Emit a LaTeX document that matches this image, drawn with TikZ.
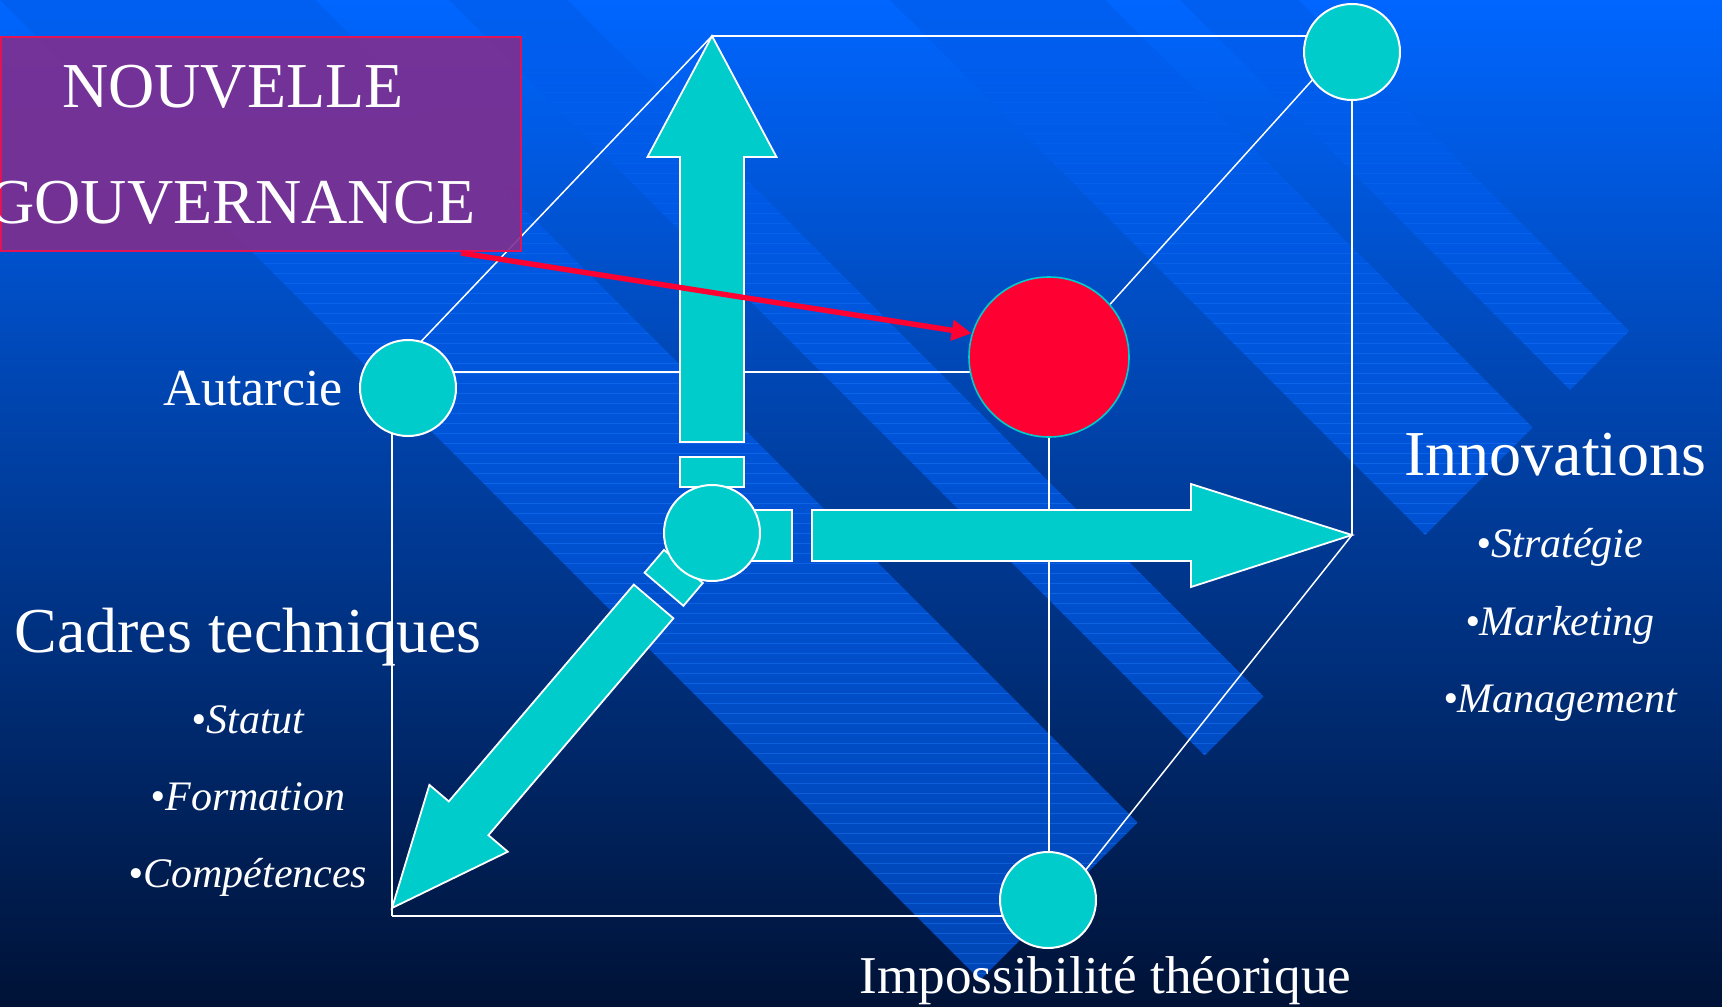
\documentclass[tikz,border=0pt]{standalone}
\usepackage{fontspec}
\setmainfont{Liberation Serif}
\usetikzlibrary{arrows.meta}
\definecolor{bgtop}{RGB}{0,102,255}
\definecolor{bgmid}{RGB}{0,66,172}
\definecolor{bgbot}{RGB}{0,18,54}
\definecolor{bandc}{RGB}{0,92,235}
\definecolor{texc}{RGB}{30,125,255}
\definecolor{turq}{RGB}{0,204,204}
\definecolor{redc}{RGB}{255,0,51}
\definecolor{purp}{RGB}{128,46,142}
\definecolor{purpline}{RGB}{225,20,85}
\begin{document}
\begin{tikzpicture}[x=0.5pt,y=-0.5pt,
  cubeedge/.style={draw=white,line width=1.2pt},
  cubediag/.style={draw=white,line width=0.75pt},
  arrowshape/.style={fill=turq,draw=white,line width=0.9pt,line join=miter},
  vertexdot/.style={circle,fill=turq,draw=white,line width=1pt,minimum size=48pt,inner sep=0pt},
  hotdot/.style={circle,fill=redc,draw=turq,line width=0.8pt,minimum size=80pt,inner sep=0pt},
  bigtxt/.style={text=white,inner sep=0pt,font=\fontsize{32}{38}\selectfont},
  midtxt/.style={text=white,inner sep=0pt,font=\fontsize{26}{31}\selectfont},
  itemtxt/.style={text=white,inner sep=0pt,font=\fontsize{21}{25}\selectfont\itshape},
  bandfill/.style={fill=bandc,fill opacity=0.7},
  texline/.style={draw=texc,line width=0.5pt}
]
\useasboundingbox (0,0) rectangle (1722,1006);
% background
\shade[top color=bgtop, middle color=bgmid, bottom color=bgbot] (0,0) rectangle (1722,1006);
\def\bandpaths{(-50,-50) -- (265,-50) -- (1137.5,822.5) -- (980,980) -- cycle
  (399,-50) -- (517,-50) -- (1263.5,696.5) -- (1204.5,755.5) -- cycle
  (840,-50) -- (1055,-50) -- (1532.5,427.5) -- (1425,535) -- cycle
  (1130,-50) -- (1248,-50) -- (1629,331) -- (1570,390) -- cycle}
\path[bandfill] \bandpaths;
\begin{scope}
  \clip \bandpaths;
  \foreach \yy in {3,13,...,1003} {
    \pgfmathsetmacro\texop{min(0.42,\yy/900)}
    \draw[texline,opacity=\texop] (0,\yy) -- (1722,\yy);
  }
\end{scope}
% cube vertices
\coordinate (B1) at (712,36);
\coordinate (B2) at (1352,36);
\coordinate (B3) at (1352,535);
\coordinate (B4) at (712,534);
\coordinate (F1) at (392,372);
\coordinate (F2) at (1049,372);
\coordinate (F3) at (1049,916);
\coordinate (F4) at (392,916);
\coordinate (tipdl) at (392,908);
% cube edges
\draw[cubeedge] (B1) -- (B2);
\draw[cubeedge] (B2) -- (B3);
\draw[cubeedge] (F1) -- (F2);
\draw[cubeedge] (F1) -- (F4);
\draw[cubeedge] (F4) -- (F3);
\draw[cubeedge] (F2) -- (F3);
\draw[cubediag] (B1) -- (F1);
\draw[cubediag] (B2) -- (F2);
\draw[cubediag] (B3) -- (F3);
% axis arrows
\draw[arrowshape] (B1) -- (776.5,157) -- (744,157) -- (744,442) -- (680,442) -- (680,157) -- (647.5,157) -- cycle;
\draw[arrowshape] (680,457) rectangle (744,487);
\draw[arrowshape] (740,510) rectangle (792,561);
\draw[arrowshape] (812,510) -- (1191,510) -- (1191,484) -- (B3) -- (1191,587) -- (1191,561) -- (812,561) -- cycle;
\draw[arrowshape] (664.0,549.9) -- (702.8,583.0) -- (683.4,605.8) -- (644.6,572.7) -- cycle;
\draw[arrowshape] (633.8,584.6) -- (673.4,618.3) -- (488.4,835.2) -- (507.8,851.7) -- (tipdl) -- (429.4,784.9) -- (448.8,801.4) -- cycle;
% vertex circles
\node[vertexdot] (bk) at (1352,52) {};
\node[vertexdot] (aut) at (408,388) {};
\node[hotdot] (hot) at (1049,357) {};
\node[vertexdot] (orig) at (712,533) {};
\node[vertexdot] (imp) at (1048,900) {};
% title box
\node[draw=purpline, fill=purp, fill opacity=0.9, line width=0.8pt, minimum width=260pt, minimum height=107pt, inner sep=0pt, anchor=north west] (govbox) at (0,36) {};
\node[bigtxt,anchor=base] (t1) at (233,108) {NOUVELLE};
\node[bigtxt,anchor=base east] (t2) at (476,223) {GOUVERNANCE};
% red arrow
\coordinate (rs) at (461,253);
\draw[redc, line width=2.7pt, -{Triangle[length=10pt,width=10pt]}] (rs) -- (hot.163);
% labels
\node[midtxt,anchor=base east] (lab1) at (343,405) {Autarcie};
\node[bigtxt,anchor=base west] (lab2) at (1404,475) {Innovations};
\node[itemtxt,anchor=base] (i1) at (1560,557) {•Stratégie};
\node[itemtxt,anchor=base] (i2) at (1560,635) {•Marketing};
\node[itemtxt,anchor=base] (i3) at (1560,712) {•Management};
\node[bigtxt,anchor=base west] (lab3) at (14,652) {Cadres techniques};
\node[itemtxt,anchor=base] (c1) at (248,733) {•Statut};
\node[itemtxt,anchor=base] (c2) at (248,810) {•Formation};
\node[itemtxt,anchor=base] (c3) at (248,887) {•Compétences};
\node[text=white,inner sep=0pt,font=\fontsize{26.6}{31}\selectfont,anchor=base west] (lab4) at (859,993) {Impossibilité théorique};
\end{tikzpicture}
\end{document}
